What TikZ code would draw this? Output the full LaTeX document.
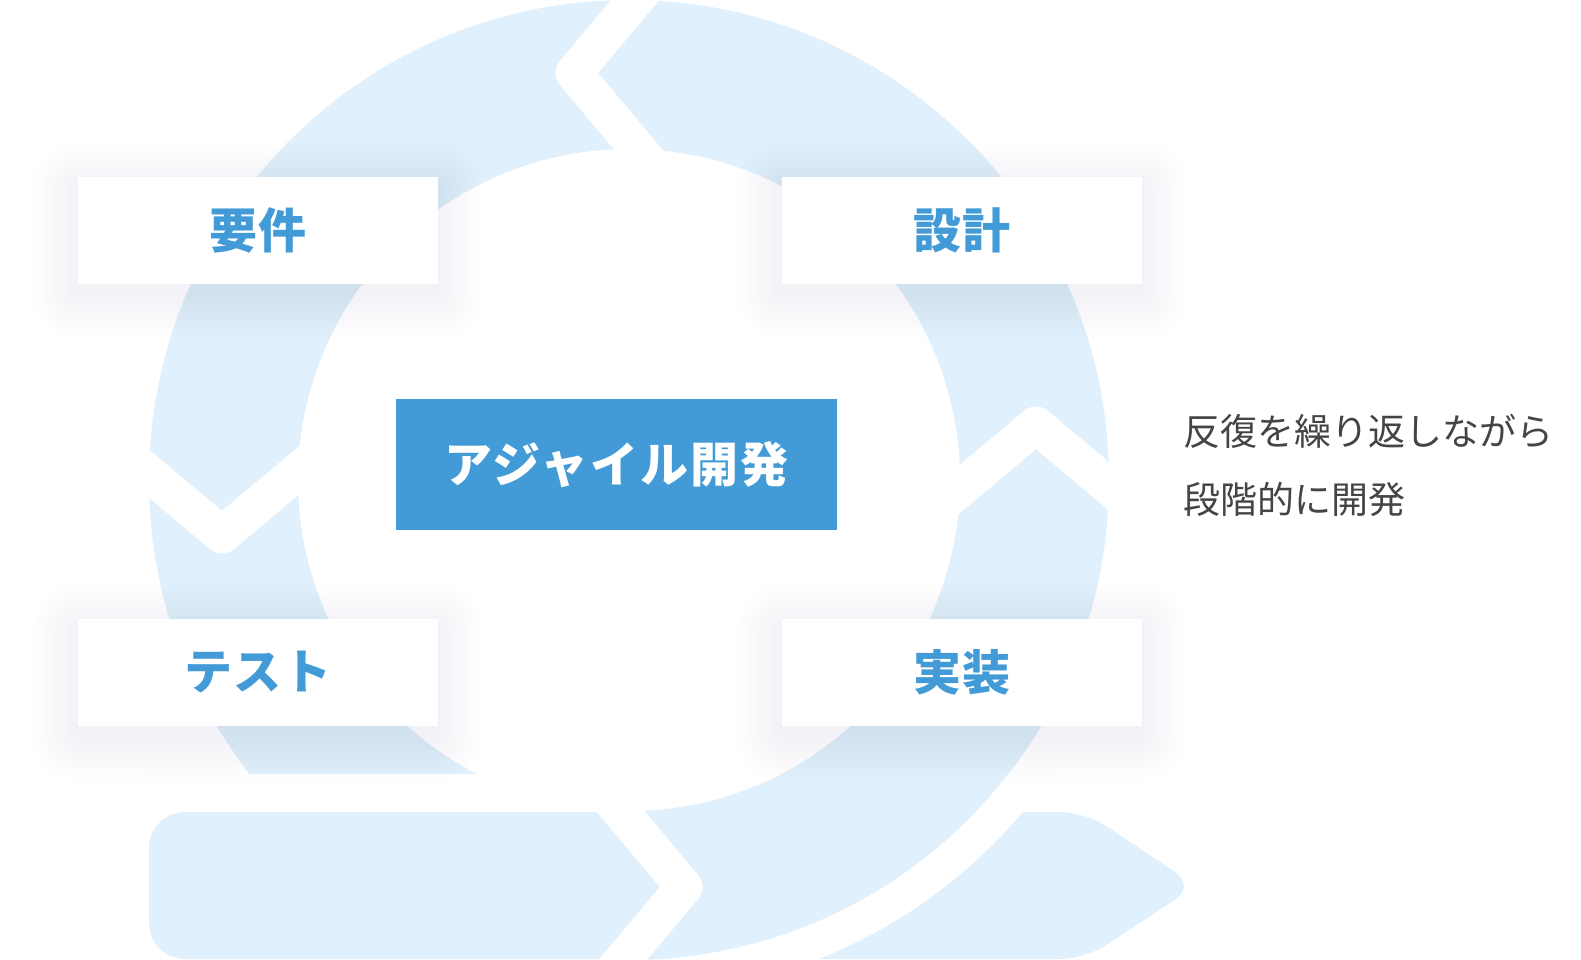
\documentclass[tikz,border=0pt]{standalone}
\usepackage{fontspec}
\usepackage{tikz}
\usetikzlibrary{calc}
\newfontfamily\jpfont{Noto Sans CJK JP}
\definecolor{ringblue}{RGB}{225,240,253}
\definecolor{agileblue}{RGB}{66,155,214}
\definecolor{shadowtint}{RGB}{150,150,190}
\definecolor{notegray}{RGB}{68,68,68}
\tikzset{
  gapline/.style={draw=white, line width=37pt, line join=round},
  phase/.style={fill=white, minimum width=360pt, minimum height=107pt, inner sep=0pt,
    text=agileblue, font=\jpfont\bfseries\addfontfeatures{LetterSpace=4}\fontsize{48pt}{56pt}\selectfont},
  core/.style={fill=agileblue, minimum width=441pt, minimum height=131pt, inner sep=0pt,
    text=white, font=\jpfont\bfseries\addfontfeatures{LetterSpace=4}\fontsize{48pt}{56pt}\selectfont}
}

\begin{document}
\begin{tikzpicture}[x=1pt,y=-1pt]
  \useasboundingbox (0,0) rectangle (1581,960);
  \coordinate (ctr) at (629,480);
  % ring with its two straight tails
  \fill[ringblue, even odd rule] (ctr) circle[radius=480] circle[radius=331];
  \fill[ringblue, rounded corners=36pt] (149,812) rectangle (700,959);
  \fill[white] (140,774) rectangle (630,812);
  \fill[ringblue, rounded corners=25pt] (800,812) -- (1085,812) -- (1196,886) -- (1085,959) -- (780,959) -- cycle;
  \begin{scope}
    \clip (700,770) rectangle (1300,965);
    \fill[white, even odd rule] (ctr) circle[radius=515] circle[radius=480];
  \end{scope}
  % chevron cuts
  \foreach \vx/\vy/\a in {574/73/0, 1036/425/90, 684/887/180, 222/535/270}
  {
    \draw[gapline] ($(\vx,\vy)+(\a-50:125)$) -- (\vx,\vy) -- ($(\vx,\vy)+(\a+50:125)$);
  }
  % soft shadows under the four boxes
  \foreach \cx/\cy in {258/230.5, 962/230.5, 258/672, 962/672}
  {
    \foreach \k in {3,6,...,45}
    {
      \fill[shadowtint, opacity=.006, rounded corners=\k pt]
        (\cx-180-\k, \cy-53.5-\k+10) rectangle (\cx+180+\k, \cy+53.5+\k+10);
    }
  }
  \node[phase] (yoken) at (258,230.5) {要件};
  \node[phase] (sekkei) at (962,230.5) {設計};
  \node[phase] (test) at (258,672) {テスト};
  \node[phase] (jisso) at (962,672) {実装};
  \node[core] (agile) at (616.5,464.5) {アジャイル開発};
  \node[anchor=west, align=left, inner sep=0pt, text=notegray,
    font=\jpfont\fontsize{37pt}{68pt}\selectfont] (note) at (1183,465)
    {反復を繰り返しながら\\段階的に開発};
\end{tikzpicture}
\end{document}
